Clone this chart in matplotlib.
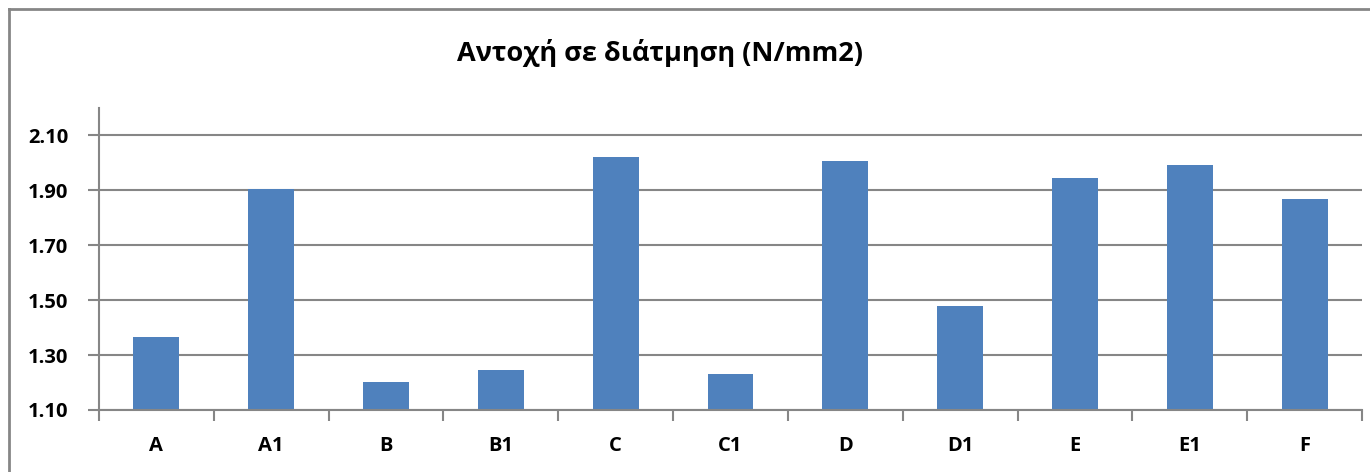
import matplotlib
matplotlib.use("Agg")
import matplotlib.pyplot as plt
from matplotlib.lines import Line2D

categories = ["A", "A1", "B", "B1", "C", "C1", "D", "D1", "E", "E1", "F"]
values = [1.366, 1.905, 1.201, 1.246, 2.022, 1.231, 2.008, 1.480, 1.946, 1.993, 1.870]
yticks = [1.10, 1.30, 1.50, 1.70, 1.90, 2.10]
title = "Αντοχή σε διάτμηση (N/mm2)"

plt.rcParams['font.family'] = ['Open Sans', 'DejaVu Sans']

W, H = 1370, 472
fig = plt.figure(figsize=(W / 100, H / 100), dpi=100)
fig.patch.set_facecolor("white")

ax = fig.add_axes([99 / W, 1 - 410 / H, (1362 - 99) / W, (410 - 108) / H])
x = list(range(len(categories)))
ax.bar(x, values, width=0.4, bottom=0, color="#4F81BD", zorder=3)
ax.set_xlim(-0.5, len(categories) - 0.5)
ax.set_ylim(1.10, 2.20)
ax.set_yticks(yticks)
ax.set_yticklabels([f"{v:.2f}" for v in yticks], fontsize=14.5, fontweight="bold")
ax.set_xticks(x)
ax.set_xticklabels(categories, fontsize=14.5, fontweight="bold")
ax.tick_params(axis="x", length=0, pad=19)
ax.tick_params(axis="y", length=8, width=1.5, color="#868686", pad=14)
ax.set_xticks([i - 0.5 for i in range(len(categories) + 1)], minor=True)
ax.tick_params(axis="x", which="minor", length=8, width=1.5, color="#868686", direction="out")
ax.grid(axis="y", color="#868686", linewidth=1.5, zorder=0)
for s in ["top", "right"]:
    ax.spines[s].set_visible(False)
for s in ["left", "bottom"]:
    ax.spines[s].set_color("#868686")
    ax.spines[s].set_linewidth(1.5)
    ax.spines[s].set_zorder(4)

fig.text(660 / W, 1 - 53 / H, title, ha="center", va="center", fontsize=19.5, fontweight="bold")

fig.add_artist(Line2D([8.5 / W, 8.5 / W], [0, 1 - 8.5 / H], color="#868686", linewidth=2, transform=fig.transFigure))
fig.add_artist(Line2D([8.5 / W, 1], [1 - 8.5 / H, 1 - 8.5 / H], color="#868686", linewidth=2, transform=fig.transFigure))

fig.savefig("out.png", dpi=100)
